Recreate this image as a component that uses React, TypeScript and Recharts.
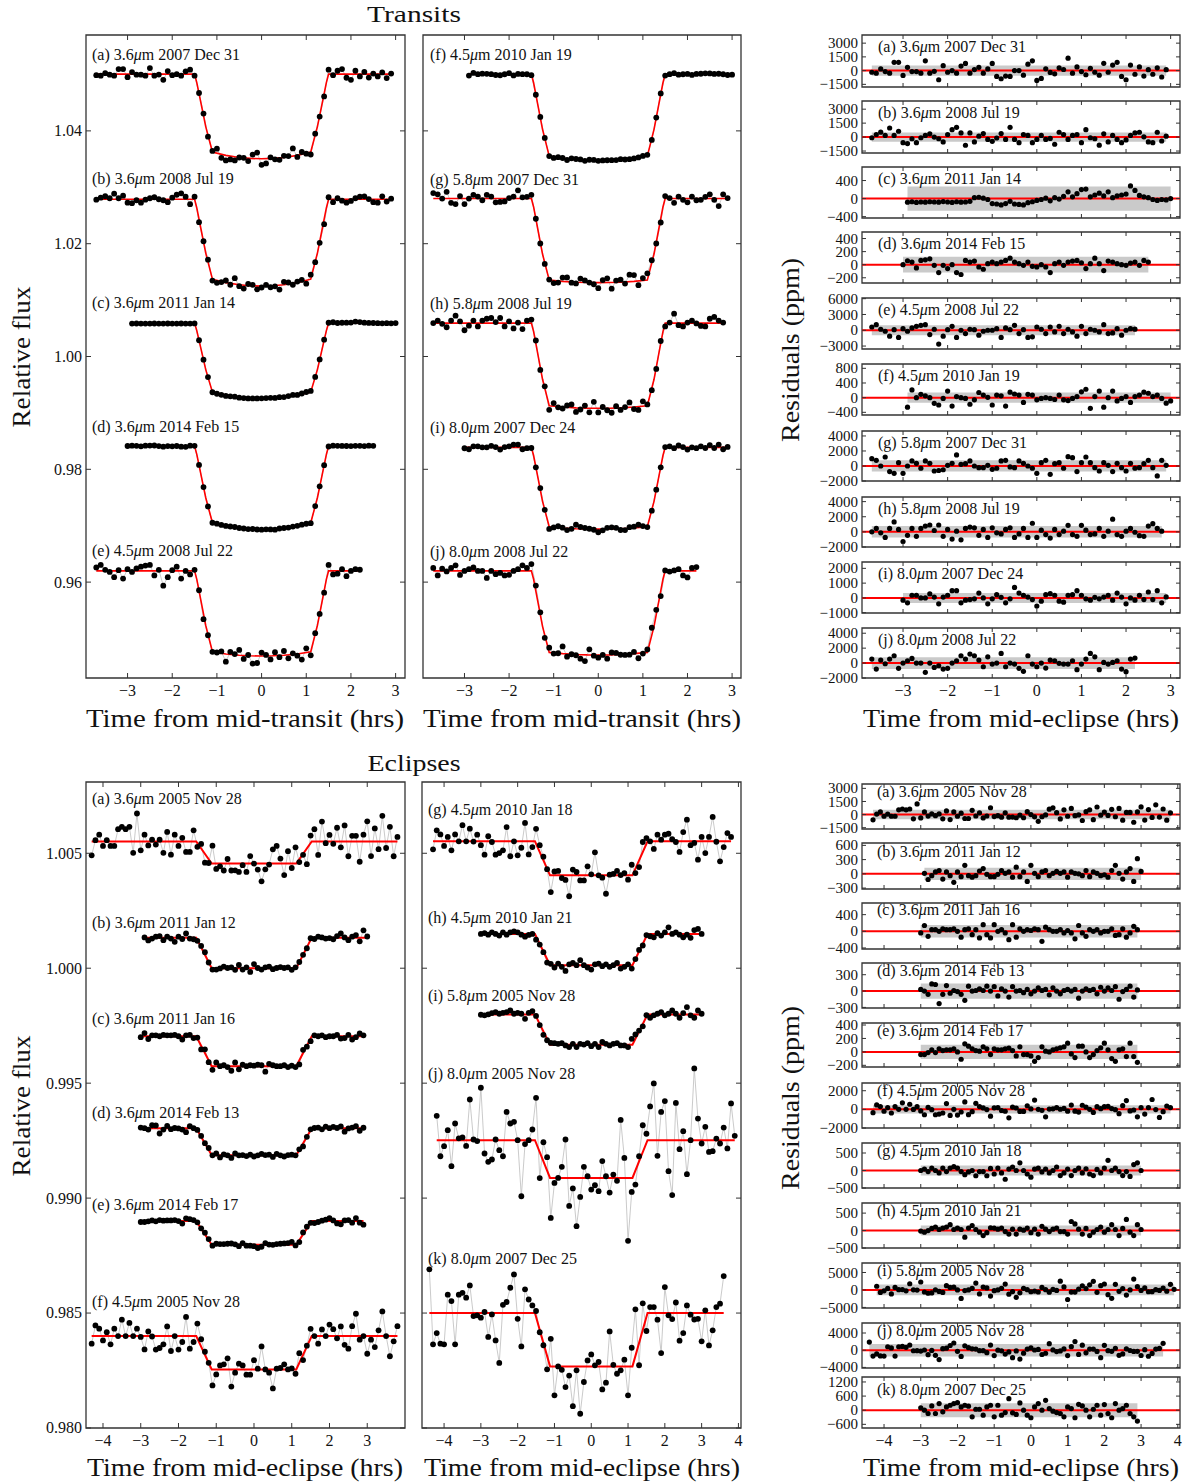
import React from 'react';
import { ComposedChart, XAxis, YAxis, Line, Scatter, ReferenceArea } from 'recharts';

const FONT = "'Liberation Serif', 'DejaVu Serif', 'Times New Roman', serif";
const AX = '#333333';
const RED = '#ff0000';

// observation time grid (hours from mid-event)
const GRID = [-4.5,-4.4,-4.3,-4.2,-4.1,-4,-3.9,-3.8,-3.7,-3.6,-3.5,-3.4,-3.3,-3.2,-3.1,-3,-2.9,-2.8,-2.7,-2.6,-2.5,-2.4,-2.3,-2.2,-2.1,-2,-1.9,-1.8,-1.7,-1.6,-1.5,-1.4,-1.3,-1.2,-1.1,-1,-0.9,-0.8,-0.7,-0.6,-0.5,-0.4,-0.3,-0.2,-0.1,0,0.1,0.2,0.3,0.4,0.5,0.6,0.7,0.8,0.9,1,1.1,1.2,1.3,1.4,1.5,1.6,1.7,1.8,1.9,2,2.1,2.2,2.3,2.4,2.5,2.6,2.7,2.8,2.9,3,3.1,3.2,3.3,3.4,3.5,3.6,3.7,3.8,3.9,4];

// model shapes (fraction of depth)
const TR_T = [-9,-1.5,-1.45,-1.35,-1.25,-1.1,-0.8,-0.5,-0.25,0,0.25,0.5,0.8,1.1,1.25,1.35,1.45,1.5,9];
const S36 = [0,0,0.1,0.36,0.62,0.92,0.96,0.985,0.996,1,0.996,0.985,0.96,0.92,0.62,0.36,0.1,0,0];
const S45 = [0,0,0.1,0.37,0.64,0.95,0.975,0.99,0.997,1,0.997,0.99,0.975,0.95,0.64,0.37,0.1,0,0];
const S58 = [0,0,0.1,0.38,0.66,0.97,0.985,0.995,0.999,1,0.999,0.995,0.985,0.97,0.66,0.38,0.1,0,0];
const EC_T = [-9,-1.53,-1.12,1.12,1.53,9];
const EC_S = [0,0,1,1,0,0];

// residuals (ppm)
const T_A = [-180,-280,180,-100,-280,900,900,-530,360,-100,
-100,-280,1070,-280,-80,-1000,540,-180,0,-280,
500,790,-280,110,360,-280,180,790,-640,-890,
-600,-640,0,0,-500,700,1070,-1070,-850,200,
-200,-350,300,120,1360,-280,400,-100,-450,250,
-180,-500,800,-180,600,900,-640,-1000,600,-400,
400,-600,100,-400,300,-700,100];
const T_B = [-70,280,530,180,980,180,630,-600,-700,-180,
-600,-70,180,350,0,-180,-520,280,800,1050,
450,-875,450,-520,100,380,-250,-450,-100,380,
-250,1050,-250,-600,280,180,-600,-250,180,-250,
-140,-770,520,280,-250,180,280,-600,800,-70,
-180,-870,350,-520,180,-250,-600,-300,180,450,
520,30,-520,-600,520,-420,100];
const T_C = [-80,-70,-85,-75,-80,-70,-75,-80,-65,-75,-85,-70,-80,-75,-60,
20,30,10,-20,-110,-120,-140,-110,-60,-120,
-130,-140,-90,-70,-40,-20,10,-50,20,-10,
50,150,40,110,200,210,40,80,120,60,
150,20,60,80,100,280,180,70,40,20,
-20,-40,-20,-30,0];
const T_D = [0,60,40,-50,65,75,90,-10,-120,-10,
-60,0,-120,-150,65,40,55,-35,-70,15,
40,15,40,65,100,40,15,-10,40,-25,
-35,0,-35,-120,15,40,-10,40,55,65,
30,-60,15,100,15,-90,55,40,15,0,
-10,25,40,-10,65,40];
const T_E = [620,1060,190,-190,-1120,120,-1370,310,-190,440,
750,940,1060,-810,190,-2620,-1120,120,750,-1370,
0,-625,190,120,-940,-190,0,0,310,-1370,
440,120,940,-625,120,-1370,-1250,620,190,-625,
620,-310,750,-625,190,-310,-1120,750,-625,190,
0,-310,1060,-625,-500,310,-940,0,310,200];
const T_F = [-260,210,0,90,50,0,-155,-200,-20,180,
-230,30,0,-20,-180,-60,140,70,10,-200,
70,50,-230,150,100,70,-130,90,70,-60,
-20,0,-20,-50,70,-60,-80,-20,30,160,
230,-290,30,180,-260,0,180,-90,-20,30,
-130,30,70,150,120,30,70,-20,-150,-90];
const T_G = [980,750,0,1200,-750,-980,440,-980,0,670,
360,-300,670,360,-670,-600,-500,90,360,1470,
220,310,670,0,-220,-220,90,-450,-300,670,
750,-130,-220,670,360,0,-300,-980,440,750,
-1110,310,440,-300,1240,1110,-750,440,1200,440,
-220,-670,440,90,-750,360,-220,-670,360,-300,
-220,310,750,-220,-1330,750,90];
const T_H = [0,450,-130,-730,450,1320,320,-1270,-450,450,
-590,450,770,910,180,910,-590,320,-950,90,
-1050,450,630,540,-450,320,-730,540,-130,-270,
320,540,-730,-270,450,-730,1140,-730,220,-360,
-820,320,-360,90,860,-360,-590,860,230,-360,
-270,450,-590,90,1680,-360,-590,90,450,-50,
-500,-590,770,1090,450,90];
const T_I = [-155,-330,180,180,0,0,270,60,-400,60,
180,490,490,-330,-150,-110,-60,330,0,-400,
-60,220,40,-330,-60,710,330,180,60,-110,
-550,-220,220,290,180,-220,-290,180,220,490,
180,-60,-150,40,-60,60,180,-150,330,60,
-400,0,-150,180,-110,400,-110,490,-330,70];
const T_J = [530,-800,400,-90,530,980,-710,0,310,620,
0,0,-1240,0,-580,-360,-800,-700,0,310,
980,530,1200,980,400,-490,840,-130,0,1290,
-490,0,-130,-710,-1110,980,-130,-490,0,-670,
400,310,-40,-130,-130,310,-890,-130,530,1290,
840,-890,90,-130,90,310,-800,-1150,530,670];

const E_A = [-600,60,300,-190,60,-190,-190,540,640,540,
640,-490,1220,-380,300,-170,80,-130,80,-490,
420,-570,300,-190,160,-450,-450,490,-160,200,
-380,-160,780,-230,-120,-300,200,-300,-290,-360,
-70,-360,330,0,-260,-770,-250,-40,620,770,
220,-500,540,-190,710,-120,-40,-680,330,540,
-580,870,-70,290,-100,600,-250,700,-640,250,
250,-880,300,880,-630,570,-330,1120,-280,640,
-640,200];
const E_B = [10,-120,-40,40,70,-110,40,-40,-180,40,
-60,180,-40,-70,-40,60,110,-10,-60,-60,
-10,70,10,40,-70,140,-60,40,-160,180,
10,-60,40,70,-40,10,50,10,40,-70,
40,10,0,-40,70,-60,40,10,-40,-20,
-70,70,180,10,-110,40,110,-160,320,50];
const E_C = [-40,140,-120,40,40,0,60,40,40,60,
0,-140,40,60,-80,40,-160,160,-80,-160,
160,0,40,-40,-200,160,-140,60,0,40,
20,60,40,-240,100,40,0,0,40,-40,
20,-40,-180,140,-40,-120,40,0,40,-40,
0,0,60,-100,-80,60,-140,-40,120,40];
const E_D = [30,0,-60,130,120,-230,-60,100,-40,10,
-10,-60,-170,90,0,10,40,10,90,0,
80,-90,40,0,-110,80,0,10,-30,30,
-50,0,60,10,30,-70,60,0,-50,10,
30,0,30,-130,0,40,10,30,-50,70,
0,60,10,80,-150,-10,30,90,-110,20];
const E_E = [-40,-40,-10,30,-10,45,20,30,30,45,
0,-110,120,85,45,20,10,75,45,-40,
45,30,30,45,55,20,-60,75,-40,-40,
-60,-140,-85,75,10,0,30,45,60,75,
130,-30,-85,85,85,0,-85,-40,20,60,
130,30,-100,-140,30,45,-70,130,-70,-155];
const E_F = [-330,460,320,-190,170,-360,320,0,710,0,
570,0,320,-40,-580,200,-20,-590,-520,-360,
420,-650,0,-590,-260,830,-550,-260,650,320,
130,0,-700,-220,170,220,480,-750,-145,250,
170,-230,-230,400,30,1000,0,-145,-830,30,
60,220,0,40,-190,420,-230,40,420,0,
-330,290,0,500,300,-100,420,-380,-550,430,
970,-160,0,-770,-160,-480,250,1070,0,-880,
-230,430];
const E_G = [-350,480,300,-200,190,-390,300,0,700,0,
550,-10,290,-170,-580,220,-30,-580,-510,-390,
620,-650,0,-610,-280,800,-570,-250,650,300,
160,-20,-730,170,190,-120,-200,-910,250,145,
-220,-220,390,45,1000,0,-100,-800,30,60,
190,10,100,-190,460,-190,-290,440,250,0,
-330,290,70,290,330,90,-30,-460,400,940,
-170,-70,-800,190,-510,190,1060,-20,-870,-250,
360,190];
const E_H = [0,40,-30,70,0,-70,70,-30,70,110,
70,-30,-120,-40,0,-150,-30,-30,-150,60,
-100,70,-70,-250,40,100,0,220,0,-100,
-190,40,70,-40,40,-70,0,100,-145,-70,
40,-145,0,70,-70,50,-100,-145,30,-70,
70,290,0,70,-30,-145,-30,-170,170,220,0];
const E_I = [-15,-45,0,60,100,30,70,100,170,30,
70,30,-190,70,145,30,-45,-145,-60,80,
70,40,70,-30,-100,40,-100,40,10,70,
-60,40,-100,120,40,-30,40,70,-30,-30,
-100,260,190,40,-100,60,-145,-45,30,100,
-45,30,170,30,-145,60,320,-45,-145,170,
30];
const E_J = [1060,-700,-260,435,-1130,725,80,120,-250,1770,
30,-40,2280,-580,-940,-840,30,-435,-700,1230,
725,800,0,-2440,-170,0,465,1960,-1130,830,
580,-1740,-220,0,480,1670,-1220,-460,-2100,-830,
480,70,-510,-320,-580,730,70,-640,145,-130,
2520,870,-2740,-610,-610,220,1170,400,1470,2470,
-680,1230,1700,-1350,-2390,1620,-390,390,-1480,0,
3120,940,-145,580,-510,-480,70,-145,550,-360,
1600,190];
const E_K = [1900,-1360,-870,-1330,-1360,800,520,-1360,800,880,
670,1200,-130,-100,-200,45,-1040,-60,-1190,-2170,
360,480,1100,1680,-250,-1450,1030,590,330,260,
-100,-100,-580,1200,-1260,0,-150,-900,-400,-1730,
-170,-2060,-680,260,520,45,190,-1000,-710,1520,
70,-320,-170,290,-1260,810,2030,-970,1160,-610,
260,260,-290,-1740,1130,-100,-260,460,-1200,-870,
330,-70,-280,-250,-1230,120,-1410,-750,260,410,
1610];
const E_KR = [100,0,-140,180,-140,280,-70,140,210,280,
320,140,210,170,-280,40,40,-210,140,210,
-280,210,-210,-100,490,-110,-180,310,0,-210,
-320,140,280,0,420,70,-40,-100,-140,-280,
140,70,-320,250,180,0,-280,40,210,-210,
240,-140,-320,280,0,70,210,-140,-280,-460];

type Curve = { id: string; band: string; date: string; base: number; depth: number; st: number[]; ss: number[]; t0: number; res: number[]; lx: number; ly: number };

const TRANSITS_L: Curve[] = [
  { id: 'a', band: '3.6', date: '2007 Dec 31', base: 1.05006, depth: 0.0150, st: TR_T, ss: S36, t0: -3.7, res: T_A, lx: 92, ly: 60 },
  { id: 'b', band: '3.6', date: '2008 Jul 19', base: 1.02788, depth: 0.0154, st: TR_T, ss: S36, t0: -3.7, res: T_B, lx: 92, ly: 184 },
  { id: 'c', band: '3.6', date: '2011 Jan 14', base: 1.00592, depth: 0.0133, st: TR_T, ss: S36, t0: -2.9, res: T_C, lx: 92, ly: 308 },
  { id: 'd', band: '3.6', date: '2014 Feb 15', base: 0.98413, depth: 0.0148, st: TR_T, ss: S36, t0: -3.0, res: T_D, lx: 92, ly: 432 },
  { id: 'e', band: '4.5', date: '2008 Jul 22', base: 0.96199, depth: 0.0151, st: TR_T, ss: S45, t0: -3.7, res: T_E, lx: 92, ly: 556 },
];
const TRANSITS_M: Curve[] = [
  { id: 'f', band: '4.5', date: '2010 Jan 19', base: 1.05006, depth: 0.0153, st: TR_T, ss: S45, t0: -2.9, res: T_F, lx: 430, ly: 60 },
  { id: 'g', band: '5.8', date: '2007 Dec 31', base: 1.0280, depth: 0.0149, st: TR_T, ss: S58, t0: -3.7, res: T_G, lx: 430, ly: 185 },
  { id: 'h', band: '5.8', date: '2008 Jul 19', base: 1.00592, depth: 0.0151, st: TR_T, ss: S58, t0: -3.7, res: T_H, lx: 430, ly: 309 },
  { id: 'i', band: '8.0', date: '2007 Dec 24', base: 0.98389, depth: 0.0145, st: TR_T, ss: S58, t0: -3.0, res: T_I, lx: 430, ly: 433 },
  { id: 'j', band: '8.0', date: '2008 Jul 22', base: 0.96199, depth: 0.0149, st: TR_T, ss: S58, t0: -3.7, res: T_J, lx: 430, ly: 557 },
];
const ECLIPSES_L: Curve[] = [
  { id: 'a', band: '3.6', date: '2005 Nov 28', base: 1.00551, depth: 0.00096, st: EC_T, ss: EC_S, t0: -4.3, res: E_A, lx: 92, ly: 804 },
  { id: 'b', band: '3.6', date: '2011 Jan 12', base: 1.00133, depth: 0.00133, st: EC_T, ss: EC_S, t0: -2.9, res: E_B, lx: 92, ly: 928 },
  { id: 'c', band: '3.6', date: '2011 Jan 16', base: 0.99704, depth: 0.00130, st: EC_T, ss: EC_S, t0: -3.0, res: E_C, lx: 92, ly: 1024 },
  { id: 'd', band: '3.6', date: '2014 Feb 13', base: 0.99304, depth: 0.00118, st: EC_T, ss: EC_S, t0: -3.0, res: E_D, lx: 92, ly: 1118 },
  { id: 'e', band: '3.6', date: '2014 Feb 17', base: 0.98900, depth: 0.00103, st: EC_T, ss: EC_S, t0: -3.0, res: E_E, lx: 92, ly: 1210 },
  { id: 'f', band: '4.5', date: '2005 Nov 28', base: 0.98400, depth: 0.00145, st: EC_T, ss: EC_S, t0: -4.3, res: E_F, lx: 92, ly: 1307 },
];
const ECLIPSES_M: Curve[] = [
  { id: 'g', band: '4.5', date: '2010 Jan 18', base: 1.00552, depth: 0.00148, st: EC_T, ss: EC_S, t0: -4.3, res: E_G, lx: 428, ly: 815 },
  { id: 'h', band: '4.5', date: '2010 Jan 21', base: 1.00149, depth: 0.00136, st: EC_T, ss: EC_S, t0: -3.0, res: E_H, lx: 428, ly: 923 },
  { id: 'i', band: '5.8', date: '2005 Nov 28', base: 0.99799, depth: 0.00132, st: EC_T, ss: EC_S, t0: -3.0, res: E_I, lx: 428, ly: 1001 },
  { id: 'j', band: '8.0', date: '2005 Nov 28', base: 0.99252, depth: 0.00164, st: EC_T, ss: EC_S, t0: -4.2, res: E_J, lx: 428, ly: 1079 },
  { id: 'k', band: '8.0', date: '2007 Dec 25', base: 0.98500, depth: 0.00232, st: EC_T, ss: EC_S, t0: -4.4, res: E_K, lx: 428, ly: 1264 },
];

type ResPanel = { id: string; band: string; date: string; t0: number; res: number[]; top: number; h: number; yd: [number, number]; yt: number[]; sig: number; ly: number };

const RES_TOP: ResPanel[] = [
  { id: 'a', band: '3.6', date: '2007 Dec 31', t0: -3.7, res: T_A, top: 35, h: 52, yd: [-1790, 3890], yt: [-1500, 0, 1500, 3000], sig: 550, ly: 52 },
  { id: 'b', band: '3.6', date: '2008 Jul 19', t0: -3.7, res: T_B, top: 101, h: 52, yd: [-1710, 3880], yt: [-1500, 0, 1500, 3000], sig: 500, ly: 118 },
  { id: 'c', band: '3.6', date: '2011 Jan 14', t0: -2.9, res: T_C, top: 167, h: 51, yd: [-430, 700], yt: [-400, 0, 400], sig: 270, ly: 184 },
  { id: 'd', band: '3.6', date: '2014 Feb 15', t0: -3.0, res: T_D, top: 232, h: 51, yd: [-280, 500], yt: [-200, 0, 200, 400], sig: 120, ly: 249 },
  { id: 'e', band: '4.5', date: '2008 Jul 22', t0: -3.7, res: T_E, top: 298, h: 51, yd: [-3560, 6130], yt: [-3000, 0, 3000, 6000], sig: 940, ly: 315 },
  { id: 'f', band: '4.5', date: '2010 Jan 19', t0: -2.9, res: T_F, top: 364, h: 51, yd: [-473, 918], yt: [-400, 0, 400, 800], sig: 140, ly: 381 },
  { id: 'g', band: '5.8', date: '2007 Dec 31', t0: -3.7, res: T_G, top: 431, h: 50, yd: [-2000, 4660], yt: [-2000, 0, 2000, 4000], sig: 750, ly: 448 },
  { id: 'h', band: '5.8', date: '2008 Jul 19', t0: -3.7, res: T_H, top: 497, h: 50, yd: [-2000, 4610], yt: [-2000, 0, 2000, 4000], sig: 760, ly: 514 },
  { id: 'i', band: '8.0', date: '2007 Dec 24', t0: -3.0, res: T_I, top: 562, h: 51, yd: [-1020, 2430], yt: [-1000, 0, 1000, 2000], sig: 340, ly: 579 },
  { id: 'j', band: '8.0', date: '2008 Jul 22', t0: -3.7, res: T_J, top: 628, h: 50, yd: [-2000, 4700], yt: [-2000, 0, 2000, 4000], sig: 780, ly: 645 },
];
const RES_BOT: ResPanel[] = [
  { id: 'a', band: '3.6', date: '2005 Nov 28', t0: -4.3, res: E_A, top: 784, h: 45, yd: [-1650, 3500], yt: [-1500, 0, 1500, 3000], sig: 540, ly: 797 },
  { id: 'b', band: '3.6', date: '2011 Jan 12', t0: -2.9, res: E_B, top: 843, h: 46, yd: [-320, 650], yt: [-300, 0, 300, 600], sig: 130, ly: 857 },
  { id: 'c', band: '3.6', date: '2011 Jan 16', t0: -3.0, res: E_C, top: 903, h: 46, yd: [-425, 680], yt: [-400, 0, 400], sig: 150, ly: 915 },
  { id: 'd', band: '3.6', date: '2014 Feb 13', t0: -3.0, res: E_D, top: 963, h: 45, yd: [-311, 515], yt: [-300, 0, 300], sig: 140, ly: 976 },
  { id: 'e', band: '3.6', date: '2014 Feb 17', t0: -3.0, res: E_E, top: 1023, h: 44, yd: [-225, 430], yt: [-200, 0, 200, 400], sig: 105, ly: 1036 },
  { id: 'f', band: '4.5', date: '2005 Nov 28', t0: -4.3, res: E_G, top: 1083, h: 45, yd: [-2000, 2830], yt: [-2000, 0, 2000], sig: 450, ly: 1096 },
  { id: 'g', band: '4.5', date: '2010 Jan 18', t0: -3.0, res: E_H, top: 1143, h: 45, yd: [-500, 786], yt: [-500, 0, 500], sig: 140, ly: 1156 },
  { id: 'h', band: '4.5', date: '2010 Jan 21', t0: -3.0, res: E_I, top: 1203, h: 45, yd: [-500, 790], yt: [-500, 0, 500], sig: 145, ly: 1216 },
  { id: 'i', band: '5.8', date: '2005 Nov 28', t0: -4.2, res: E_J, top: 1263, h: 45, yd: [-5170, 7720], yt: [-5000, 0, 5000], sig: 1550, ly: 1276 },
  { id: 'j', band: '8.0', date: '2005 Nov 28', t0: -4.4, res: E_K, top: 1323, h: 45, yd: [-4140, 6330], yt: [-4000, 0, 4000], sig: 1450, ly: 1336 },
  { id: 'k', band: '8.0', date: '2007 Dec 25', t0: -3.0, res: E_KR, top: 1377, h: 51, yd: [-756, 1411], yt: [-600, 0, 600, 1200], sig: 300, ly: 1395 },
];

const XT_TOP = [-3, -2, -1, 0, 1, 2, 3];
const XT_BL = [-4, -3, -2, -1, 0, 1, 2, 3];
const XT_BM = [-4, -3, -2, -1, 0, 1, 2, 3, 4];
const YT_TOP = [0.96, 0.98, 1.0, 1.02, 1.04];
const YT_BOT = [0.98, 0.985, 0.99, 0.995, 1.0, 1.005];

// ---------- helpers ----------
function timesFor(t0: number, n: number): number[] {
  const i = GRID.findIndex((g) => Math.abs(g - t0) < 1e-6);
  return GRID.slice(i, i + n);
}
function shapeAt(ts: number[], ss: number[], t: number): number {
  for (let i = 0; i < ts.length - 1; i++) {
    if (t >= ts[i] && t <= ts[i + 1]) {
      const f = (t - ts[i]) / (ts[i + 1] - ts[i]);
      return ss[i] + f * (ss[i + 1] - ss[i]);
    }
  }
  return 0;
}
function buildCurve(c: Curve) {
  const ts = timesFor(c.t0, c.res.length);
  const pts = ts.map((t, i) => ({ t, v: c.base - c.depth * shapeAt(c.st, c.ss, t) + c.res[i] * 1e-6 }));
  const tA = ts[0];
  const tB = ts[ts.length - 1];
  const inner = c.st.map((t, i) => ({ t, v: c.base - c.depth * c.ss[i] })).filter((p) => p.t > tA && p.t < tB);
  const model = [{ t: tA, v: c.base }, ...inner, { t: tB, v: c.base }];
  return { pts, model };
}
const fmtInt = (v: number) => (v < 0 ? '\u2212' + Math.abs(v) : String(v));

const mkXTick = (h: number, show: boolean, tk: number) => (p: any) => {
  const v = p.payload.value;
  return (
    <g>
      <line x1={p.x} x2={p.x} y1={p.y} y2={p.y - tk} stroke={AX} strokeWidth={1} />
      <line x1={p.x} x2={p.x} y1={p.y - h} y2={p.y - h + tk} stroke={AX} strokeWidth={1} />
      {show ? (
        <text x={p.x} y={p.y + 18} textAnchor="middle" fontSize={16} fontFamily={FONT} fill="#111">
          {fmtInt(v)}
        </text>
      ) : null}
    </g>
  );
};
const mkYTick = (w: number, show: boolean, tk: number, fmt: (v: number) => string, fs: number) => (p: any) => {
  const v = p.payload.value;
  return (
    <g>
      <line x1={p.x} x2={p.x + tk} y1={p.y} y2={p.y} stroke={AX} strokeWidth={1} />
      <line x1={p.x + w} x2={p.x + w - tk} y1={p.y} y2={p.y} stroke={AX} strokeWidth={1} />
      {show ? (
        <text x={p.x - 4} y={p.y} dy={fs * 0.34} textAnchor="end" fontSize={fs} fontFamily={FONT} fill="#111">
          {fmt(v)}
        </text>
      ) : null}
    </g>
  );
};

const mainDot = (p: any) => <circle cx={p.cx} cy={p.cy} r={2.9} fill="#000" />;
const resDot = (p: any) => <circle cx={p.cx} cy={p.cy} r={2.6} fill="#000" />;

const LW = 70, RM = 6, MT = 14, BH = 30;

type Geom = { x: number; y: number; w: number; h: number; xd: [number, number]; yd: [number, number]; xt: number[]; yt: number[]; showX: boolean; showY: boolean; fmtY: (v: number) => string; tk: number; fs: number };

function renderChart(key: string, g: Geom, series: React.ReactNode[]) {
  return (
    <div key={key} style={{ position: 'absolute', left: g.x - LW, top: g.y - MT }}>
      <ComposedChart width={LW + g.w + RM} height={MT + g.h + BH} margin={{ top: MT, right: RM, left: 0, bottom: 0 }}>
        <XAxis xAxisId="b" type="number" dataKey="t" domain={g.xd} ticks={g.xt} interval={0} allowDataOverflow
          orientation="bottom" height={BH} axisLine={false} tickLine={false} tickSize={0} tickMargin={0}
          tick={mkXTick(g.h, g.showX, g.tk)} />
        <YAxis yAxisId="l" type="number" dataKey="v" domain={g.yd} ticks={g.yt} interval={0} allowDataOverflow
          orientation="left" width={LW} axisLine={false} tickLine={false} tickSize={0} tickMargin={0}
          tick={mkYTick(g.w, g.showY, g.tk, g.fmtY, g.fs)} />
        {series}
        <ReferenceArea xAxisId="b" yAxisId="l" x1={g.xd[0]} x2={g.xd[1]} y1={g.yd[0]} y2={g.yd[1]}
          fill="none" fillOpacity={0} stroke={AX} strokeWidth={1.3} />
      </ComposedChart>
    </div>
  );
}

function mainSeries(curves: Curve[], redW: number): React.ReactNode[] {
  const out: React.ReactNode[] = [];
  curves.forEach((c) => {
    const { pts, model } = buildCurve(c);
    out.push(<Line key={'g' + c.id} xAxisId="b" yAxisId="l" data={pts} dataKey="v" type="linear" stroke="#c4c4c4"
      strokeWidth={0.9} dot={false} activeDot={false} isAnimationActive={false} />);
    out.push(<Line key={'m' + c.id} xAxisId="b" yAxisId="l" data={model} dataKey="v" type="linear" stroke={RED}
      strokeWidth={redW} dot={false} activeDot={false} isAnimationActive={false} />);
    out.push(<Scatter key={'s' + c.id} xAxisId="b" yAxisId="l" data={pts} shape={mainDot} isAnimationActive={false} />);
  });
  return out;
}

function resSeries(r: ResPanel, xd: [number, number]): React.ReactNode[] {
  const ts = timesFor(r.t0, r.res.length);
  const pts = ts.map((t, i) => ({ t, v: r.res[i] }));
  const zero = [{ t: xd[0], v: 0 }, { t: xd[1], v: 0 }];
  return [
    <ReferenceArea key="band" xAxisId="b" yAxisId="l" x1={ts[0]} x2={ts[ts.length - 1]} y1={-r.sig} y2={r.sig}
      fill="#cacaca" fillOpacity={1} stroke="none" />,
    <Line key="zero" xAxisId="b" yAxisId="l" data={zero} dataKey="v" type="linear" stroke={RED} strokeWidth={2}
      dot={false} activeDot={false} isAnimationActive={false} />,
    <Scatter key="pts" xAxisId="b" yAxisId="l" data={pts} shape={resDot} isAnimationActive={false} />,
  ];
}

function PanelLabel({ x, y, id, band, date }: { x: number; y: number; id: string; band: string; date: string }) {
  return (
    <text x={x} y={y} fontSize={16} fontFamily={FONT} fill="#111">
      {'(' + id + ') ' + band}
      <tspan fontStyle="italic">{'\u03bc'}</tspan>
      {'m ' + date}
    </text>
  );
}

export default function App() {
  const f2 = (v: number) => v.toFixed(2);
  const f3 = (v: number) => v.toFixed(3);
  const charts: React.ReactNode[] = [];

  const topY: [number, number] = [0.943, 1.057];
  const botY: [number, number] = [0.98, 1.0081];
  charts.push(renderChart('tl', { x: 86, y: 35, w: 319, h: 643, xd: [-3.93, 3.21], yd: topY, xt: XT_TOP, yt: YT_TOP, showX: true, showY: true, fmtY: f2, tk: 5, fs: 16 }, mainSeries(TRANSITS_L, 1.6)));
  charts.push(renderChart('tm', { x: 423, y: 35, w: 318, h: 643, xd: [-3.93, 3.2], yd: topY, xt: XT_TOP, yt: YT_TOP, showX: true, showY: false, fmtY: f2, tk: 5, fs: 16 }, mainSeries(TRANSITS_M, 1.6)));
  charts.push(renderChart('bl', { x: 86, y: 782, w: 319, h: 646, xd: [-4.45, 4.0], yd: botY, xt: XT_BL, yt: YT_BOT, showX: true, showY: true, fmtY: f3, tk: 5, fs: 16 }, mainSeries(ECLIPSES_L, 2)));
  charts.push(renderChart('bm', { x: 422, y: 782, w: 319, h: 646, xd: [-4.6, 4.07], yd: botY, xt: XT_BM, yt: YT_BOT, showX: true, showY: false, fmtY: f3, tk: 5, fs: 16 }, mainSeries(ECLIPSES_M, 2)));

  const rtX: [number, number] = [-3.92, 3.21];
  RES_TOP.forEach((r, i) => {
    charts.push(renderChart('rt' + r.id, { x: 862, y: r.top, w: 318, h: r.h, xd: rtX, yd: r.yd, xt: XT_TOP, yt: r.yt, showX: i === RES_TOP.length - 1, showY: true, fmtY: fmtInt, tk: 4, fs: 15 }, resSeries(r, rtX)));
  });
  const rbX: [number, number] = [-4.6, 4.06];
  RES_BOT.forEach((r, i) => {
    charts.push(renderChart('rb' + r.id, { x: 862, y: r.top, w: 318, h: r.h, xd: rbX, yd: r.yd, xt: XT_BM, yt: r.yt, showX: i === RES_BOT.length - 1, showY: true, fmtY: fmtInt, tk: 4, fs: 15 }, resSeries(r, rbX)));
  });

  const labels = [...TRANSITS_L, ...TRANSITS_M, ...ECLIPSES_L, ...ECLIPSES_M];

  return (
    <div style={{ position: 'absolute', left: 0, top: 0, width: 1190, height: 1482, background: '#fff', overflow: 'hidden' }}>
      {charts}
      <svg width={1190} height={1482} style={{ position: 'absolute', left: 0, top: 0, pointerEvents: 'none' }}>
        <text x={414} y={22} textAnchor="middle" fontSize={24} fontFamily={FONT} fill="#111" textLength={94} lengthAdjust="spacingAndGlyphs">Transits</text>
        <text x={414} y={771} textAnchor="middle" fontSize={24} fontFamily={FONT} fill="#111" textLength={93} lengthAdjust="spacingAndGlyphs">Eclipses</text>
        <text x={245} y={727} textAnchor="middle" fontSize={25} fontFamily={FONT} fill="#111" textLength={318} lengthAdjust="spacingAndGlyphs">Time from mid-transit (hrs)</text>
        <text x={582} y={727} textAnchor="middle" fontSize={25} fontFamily={FONT} fill="#111" textLength={318} lengthAdjust="spacingAndGlyphs">Time from mid-transit (hrs)</text>
        <text x={1021} y={727} textAnchor="middle" fontSize={25} fontFamily={FONT} fill="#111" textLength={316} lengthAdjust="spacingAndGlyphs">Time from mid-eclipse (hrs)</text>
        <text x={245} y={1476} textAnchor="middle" fontSize={25} fontFamily={FONT} fill="#111" textLength={316} lengthAdjust="spacingAndGlyphs">Time from mid-eclipse (hrs)</text>
        <text x={582} y={1476} textAnchor="middle" fontSize={25} fontFamily={FONT} fill="#111" textLength={316} lengthAdjust="spacingAndGlyphs">Time from mid-eclipse (hrs)</text>
        <text x={1021} y={1476} textAnchor="middle" fontSize={25} fontFamily={FONT} fill="#111" textLength={316} lengthAdjust="spacingAndGlyphs">Time from mid-eclipse (hrs)</text>
        <text x={30} y={357} transform="rotate(-90 30 357)" textAnchor="middle" fontSize={25} fontFamily={FONT} fill="#111" textLength={141} lengthAdjust="spacingAndGlyphs">Relative flux</text>
        <text x={30} y={1106} transform="rotate(-90 30 1106)" textAnchor="middle" fontSize={25} fontFamily={FONT} fill="#111" textLength={141} lengthAdjust="spacingAndGlyphs">Relative flux</text>
        <text x={799} y={350} transform="rotate(-90 799 350)" textAnchor="middle" fontSize={25} fontFamily={FONT} fill="#111" textLength={184} lengthAdjust="spacingAndGlyphs">Residuals (ppm)</text>
        <text x={799} y={1098} transform="rotate(-90 799 1098)" textAnchor="middle" fontSize={25} fontFamily={FONT} fill="#111" textLength={184} lengthAdjust="spacingAndGlyphs">Residuals (ppm)</text>
        {labels.map((c, i) => (
          <PanelLabel key={'lm' + i} x={c.lx} y={c.ly} id={c.id} band={c.band} date={c.date} />
        ))}
        {RES_TOP.map((r) => (
          <PanelLabel key={'lt' + r.id} x={878} y={r.ly} id={r.id} band={r.band} date={r.date} />
        ))}
        {RES_BOT.map((r) => (
          <PanelLabel key={'lb' + r.id} x={877} y={r.ly} id={r.id} band={r.band} date={r.date} />
        ))}
      </svg>
    </div>
  );
}
